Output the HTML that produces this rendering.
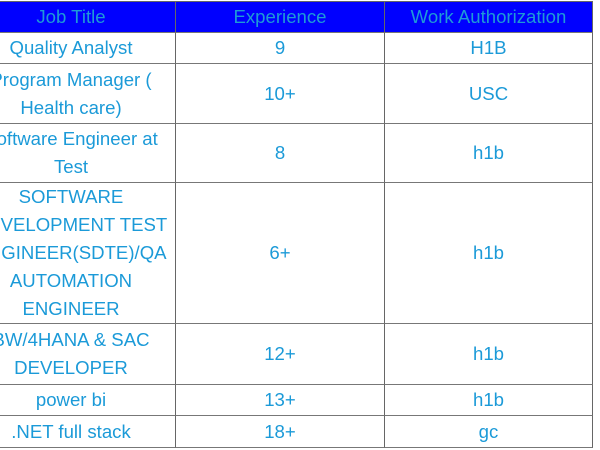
<!DOCTYPE html>
<html><head><style>
body{margin:0;width:600px;height:450px;background:#fff;overflow:hidden;position:relative;font-family:"Liberation Sans",Arial,sans-serif;}
.c{position:absolute;display:flex;align-items:center;justify-content:center;text-align:center;color:#1b9ad8;font-size:18.6px;line-height:28px;box-sizing:border-box;border-right:1px solid #666;border-bottom:1px solid #777;white-space:nowrap;}
.h{background:#0000ff;color:#1e9bd6;}
</style></head><body>
<div class="c h" style="left:-33px;top:1px;width:209px;height:32px;border-top:1px solid #666">Job Title</div>
<div class="c h" style="left:176px;top:1px;width:209px;height:32px;border-top:1px solid #666">Experience</div>
<div class="c h" style="left:385px;top:1px;width:208px;height:32px;border-top:1px solid #666">Work Authorization</div>

<div class="c" style="left:-33px;top:33px;width:209px;height:31px">Quality Analyst</div>
<div class="c" style="left:176px;top:33px;width:209px;height:31px">9</div>
<div class="c" style="left:385px;top:33px;width:208px;height:31px">H1B</div>

<div class="c" style="left:-33px;top:64px;width:209px;height:60px">Program Manager (<br>Health care)</div>
<div class="c" style="left:176px;top:64px;width:209px;height:60px">10+</div>
<div class="c" style="left:385px;top:64px;width:208px;height:60px">USC</div>

<div class="c" style="left:-33px;top:124px;width:209px;height:59px">Software Engineer at<br>Test</div>
<div class="c" style="left:176px;top:124px;width:209px;height:59px">8</div>
<div class="c" style="left:385px;top:124px;width:208px;height:59px">h1b</div>

<div class="c" style="left:-33px;top:183px;width:209px;height:141px">SOFTWARE<br>DEVELOPMENT TEST<br>ENGINEER(SDTE)/QA<br>AUTOMATION<br>ENGINEER</div>
<div class="c" style="left:176px;top:183px;width:209px;height:141px">6+</div>
<div class="c" style="left:385px;top:183px;width:208px;height:141px">h1b</div>

<div class="c" style="left:-33px;top:324px;width:209px;height:61px">BW/4HANA &amp; SAC<br>DEVELOPER</div>
<div class="c" style="left:176px;top:324px;width:209px;height:61px">12+</div>
<div class="c" style="left:385px;top:324px;width:208px;height:61px">h1b</div>

<div class="c" style="left:-33px;top:385px;width:209px;height:31px">power bi</div>
<div class="c" style="left:176px;top:385px;width:209px;height:31px">13+</div>
<div class="c" style="left:385px;top:385px;width:208px;height:31px">h1b</div>

<div class="c" style="left:-33px;top:416px;width:209px;height:32px">.NET full stack</div>
<div class="c" style="left:176px;top:416px;width:209px;height:32px">18+</div>
<div class="c" style="left:385px;top:416px;width:208px;height:32px">gc</div>
</body></html>
